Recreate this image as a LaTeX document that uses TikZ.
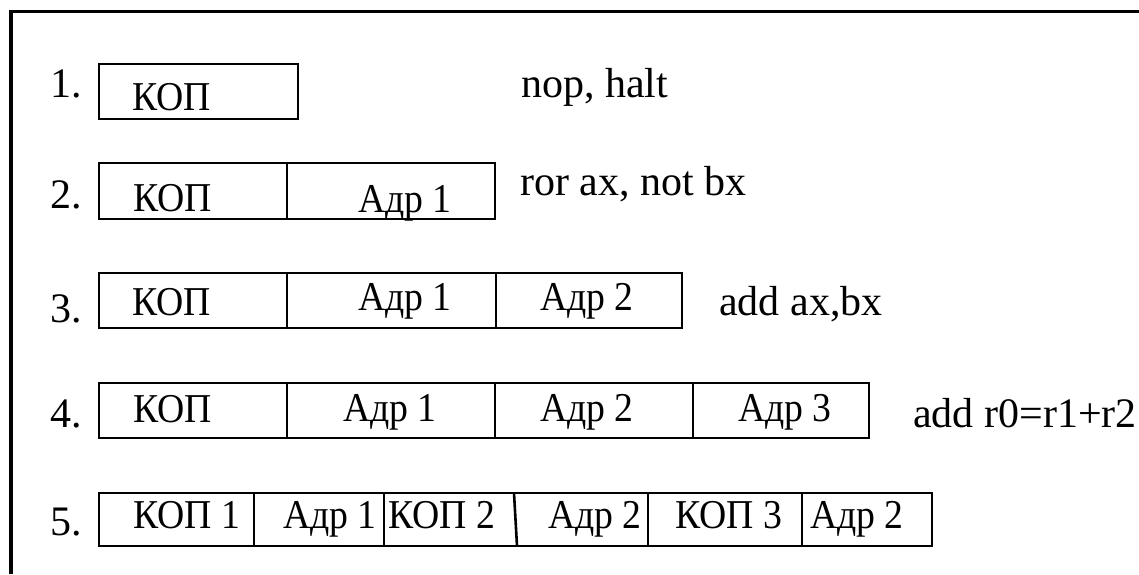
\documentclass[tikz,border=0pt]{standalone}
\usepackage{fontspec}
\setmainfont{Liberation Serif}
% cell captions are set slightly narrow
\newcommand{\narrowtext}[1]{\scalebox{0.92}[1]{#1}}
\begin{document}
\begin{tikzpicture}[x=1pt,y=-1pt,
  cellbox/.style={draw=black,line width=2.6pt},
  frameline/.style={draw=black,line width=3.2pt},
  txt/.style={inner sep=0pt,anchor=base west,font=\fontsize{41}{43}\selectfont},
  lbl/.style={inner sep=0pt,anchor=base west,font=\fontsize{42}{44}\selectfont}]
\useasboundingbox (0,0) rectangle (1139,574);
\fill[white] (0,0) rectangle (1139,574);

% outer frame: top and left edges only
\coordinate (fTL) at (11,11.5);
\coordinate (fTR) at (1139,11.5);
\coordinate (fBL) at (11,574);
\draw[frameline] (fBL) -- (fTL) -- (fTR);

% row 1
\draw[cellbox] (99,64) rectangle (298,119);
\node[lbl] (n1) at (50,97) {1.};
\node[txt] (r1a) at (132,110) {\narrowtext{КОП}};
\node[lbl] (c1) at (521,97) {nop, halt};

% row 2
\draw[cellbox] (99,163) rectangle (495,219);
\draw[cellbox] (287,163) -- (287,219);
\node[lbl] (n2) at (50,208) {2.};
\node[txt] (r2a) at (133,211) {\narrowtext{КОП}};
\node[txt] (r2b) at (358,212) {\narrowtext{Адр 1}};
\node[lbl] (c2) at (520,195) {ror ax, not bx};

% row 3
\draw[cellbox] (99,273) rectangle (682,328);
\draw[cellbox] (287,273) -- (287,328);
\draw[cellbox] (496,273) -- (496,328);
\node[lbl] (n3) at (50,322) {3.};
\node[txt] (r3a) at (132,315) {\narrowtext{КОП}};
\node[txt] (r3b) at (358,310) {\narrowtext{Адр 1}};
\node[txt] (r3c) at (540,310) {\narrowtext{Адр 2}};
\node[lbl] (c3) at (719,315) {add ax,bx};

% row 4
\draw[cellbox] (99,383) rectangle (869,438);
\draw[cellbox] (287,383) -- (287,438);
\draw[cellbox] (495,383) -- (495,438);
\draw[cellbox] (693,383) -- (693,438);
\node[lbl] (n4) at (50,427) {4.};
\node[txt] (r4a) at (133,422) {\narrowtext{КОП}};
\node[txt] (r4b) at (343,421) {\narrowtext{Адр 1}};
\node[txt] (r4c) at (540,421) {\narrowtext{Адр 2}};
\node[txt] (r4d) at (738,421) {\narrowtext{Адр 3}};
\node[lbl] (c4) at (913,427) {add r0=r1+r2};

% row 5
\draw[cellbox] (99,493) rectangle (932,546);
\draw[cellbox] (254,493) -- (254,546);
\draw[cellbox] (384,493) -- (384,546);
\draw[cellbox] (514,493) -- (517,546);
\draw[cellbox] (648,493) -- (648,546);
\draw[cellbox] (802,493) -- (802,546);
\node[lbl] (n5) at (50,535) {5.};
\node[txt] (r5a) at (133,528) {\narrowtext{КОП 1}};
\node[txt] (r5b) at (283,528) {\narrowtext{Адр 1}};
\node[txt] (r5c) at (388,528) {\narrowtext{КОП 2}};
\node[txt] (r5d) at (548,528) {\narrowtext{Адр 2}};
\node[txt] (r5e) at (675,528) {\narrowtext{КОП 3}};
\node[txt] (r5f) at (810,528) {\narrowtext{Адр 2}};
\end{tikzpicture}
\end{document}
